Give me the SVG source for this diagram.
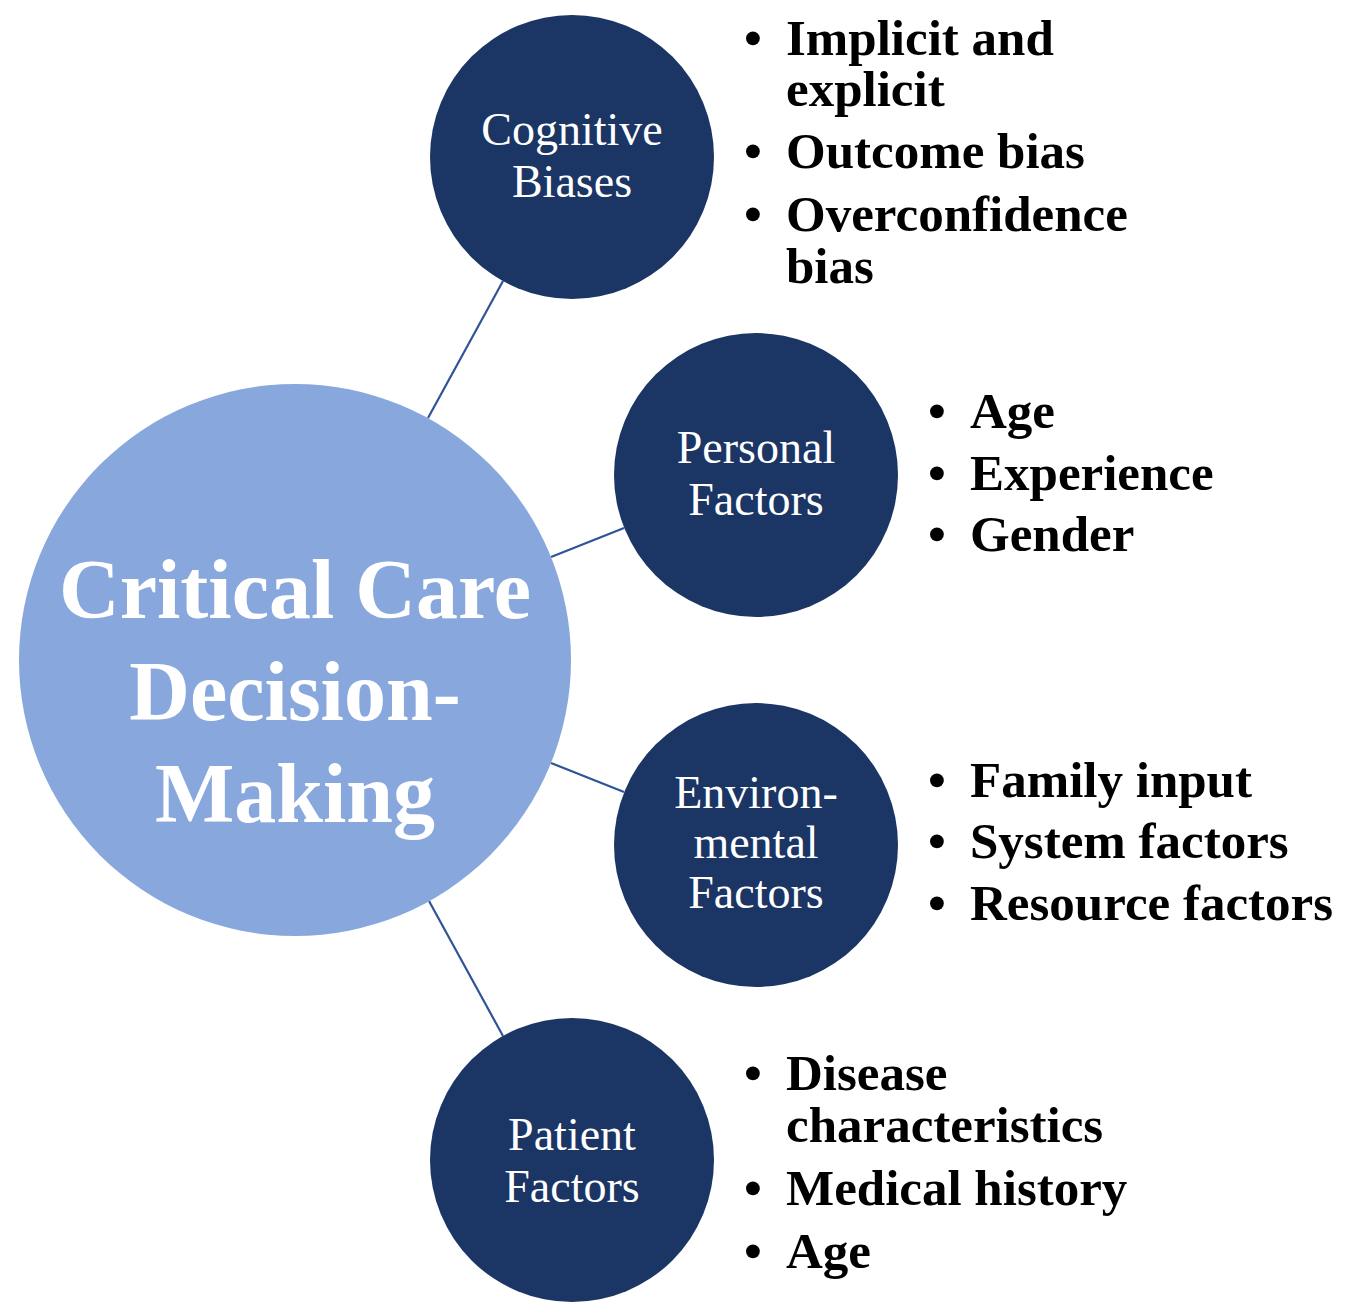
<svg xmlns="http://www.w3.org/2000/svg" width="1349" height="1302" viewBox="0 0 1349 1302">
  <style>
    .hub { fill: #88a8dd; }
    .node { fill: #1b3564; }
    .link { stroke: #2f5496; stroke-width: 2.2; fill: none; }
    .hubtxt { font-family: "Liberation Serif", "Times New Roman", serif; font-weight: bold; font-size: 84px; fill: #ffffff; text-anchor: middle; }
    .nodetxt { font-family: "Liberation Serif", "Times New Roman", serif; font-size: 46px; fill: #ffffff; text-anchor: middle; }
    .item { font-family: "Liberation Serif", "Times New Roman", serif; font-weight: bold; font-size: 51px; fill: #000000; }
  </style>

  <!-- connectors from the hub to each factor circle -->
  <g id="connectors">
    <line class="link" x1="428" y1="418" x2="503" y2="281"/>
    <line class="link" x1="551" y1="557" x2="624" y2="528"/>
    <line class="link" x1="551" y1="763" x2="624" y2="792"/>
    <line class="link" x1="429" y1="901" x2="503" y2="1036"/>
  </g>

  <!-- central hub -->
  <g id="hub">
    <circle class="hub" cx="295" cy="660" r="276"/>
    <text class="hubtxt" x="295" y="618">Critical Care</text>
    <text class="hubtxt" x="295" y="720">Decision-</text>
    <text class="hubtxt" x="295" y="822">Making</text>
  </g>

  <!-- factor: cognitive biases -->
  <g id="cognitive">
    <circle class="node" cx="572" cy="157" r="142"/>
    <text class="nodetxt" x="572" y="145">Cognitive</text>
    <text class="nodetxt" x="572" y="197">Biases</text>
    <text class="item" x="744" y="55">•</text>
    <text class="item" x="786" y="55">Implicit and</text>
    <text class="item" x="786" y="106">explicit</text>
    <text class="item" x="744" y="168">•</text>
    <text class="item" x="786" y="168">Outcome bias</text>
    <text class="item" x="744" y="231">•</text>
    <text class="item" x="786" y="231">Overconfidence</text>
    <text class="item" x="786" y="283">bias</text>
  </g>

  <!-- factor: personal -->
  <g id="personal">
    <circle class="node" cx="756" cy="475" r="142"/>
    <text class="nodetxt" x="756" y="463">Personal</text>
    <text class="nodetxt" x="756" y="515">Factors</text>
    <text class="item" x="928" y="428">•</text>
    <text class="item" x="970" y="428">Age</text>
    <text class="item" x="928" y="490">•</text>
    <text class="item" x="970" y="490">Experience</text>
    <text class="item" x="928" y="551">•</text>
    <text class="item" x="970" y="551">Gender</text>
  </g>

  <!-- factor: environmental -->
  <g id="environmental">
    <circle class="node" cx="756" cy="845" r="142"/>
    <text class="nodetxt" x="756" y="808">Environ-</text>
    <text class="nodetxt" x="756" y="858">mental</text>
    <text class="nodetxt" x="756" y="908">Factors</text>
    <text class="item" x="928" y="797">•</text>
    <text class="item" x="970" y="797">Family input</text>
    <text class="item" x="928" y="858">•</text>
    <text class="item" x="970" y="858">System factors</text>
    <text class="item" x="928" y="920">•</text>
    <text class="item" x="970" y="920">Resource factors</text>
  </g>

  <!-- factor: patient -->
  <g id="patient">
    <circle class="node" cx="572" cy="1160" r="142"/>
    <text class="nodetxt" x="572" y="1150">Patient</text>
    <text class="nodetxt" x="572" y="1202">Factors</text>
    <text class="item" x="744" y="1090">•</text>
    <text class="item" x="786" y="1090">Disease</text>
    <text class="item" x="786" y="1142">characteristics</text>
    <text class="item" x="744" y="1205">•</text>
    <text class="item" x="786" y="1205">Medical history</text>
    <text class="item" x="744" y="1268">•</text>
    <text class="item" x="786" y="1268">Age</text>
  </g>
</svg>
